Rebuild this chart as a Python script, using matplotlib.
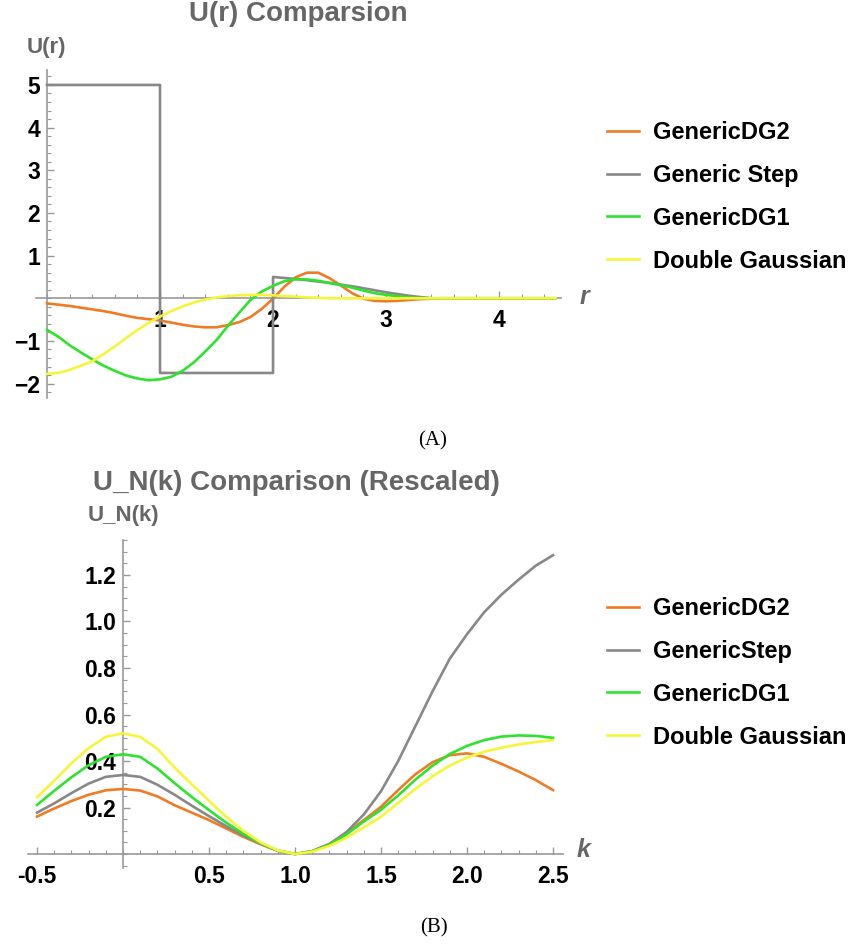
import matplotlib
matplotlib.use("Agg")
import matplotlib.pyplot as plt
from matplotlib.ticker import MultipleLocator

plt.rcParams['font.family'] = ['Liberation Sans', 'DejaVu Sans']

W, H = 851, 948

# ---- top panel data: U(r) ----
r_grid = [0.0, 0.1, 0.2, 0.3, 0.4, 0.5, 0.6, 0.7, 0.8, 0.9, 1.0, 1.1, 1.2, 1.3, 1.4, 1.5, 1.6,
          1.7, 1.8, 1.9, 2.0, 2.1, 2.2, 2.3, 2.4, 2.5, 2.6, 2.7, 2.8, 2.9, 3.0, 3.1, 3.2, 3.3,
          3.4, 3.5, 4.5]
u_dg2 = [-0.12, -0.15, -0.18, -0.22, -0.26, -0.30, -0.35, -0.41, -0.46, -0.49, -0.52, -0.57,
         -0.62, -0.66, -0.68, -0.68, -0.63, -0.56, -0.44, -0.25, -0.01, 0.27, 0.49, 0.60, 0.60,
         0.47, 0.30, 0.12, -0.01, -0.06, -0.07, -0.06, -0.04, -0.02, -0.01, 0.0, 0.0]
u_dg1 = [-0.74, -0.90, -1.10, -1.27, -1.43, -1.58, -1.70, -1.81, -1.88, -1.92, -1.90, -1.84,
         -1.70, -1.50, -1.25, -0.98, -0.65, -0.34, -0.04, 0.16, 0.29, 0.40, 0.45, 0.44, 0.41,
         0.36, 0.31, 0.25, 0.18, 0.12, 0.08, 0.05, 0.02, 0.01, 0.0, 0.0, 0.0]
u_dgauss = [-1.77, -1.75, -1.68, -1.58, -1.48, -1.31, -1.13, -0.93, -0.74, -0.58, -0.43, -0.30,
            -0.19, -0.10, -0.03, 0.02, 0.05, 0.07, 0.08, 0.08, 0.07, 0.05, 0.04, 0.02, 0.01,
            0.0, 0.0, 0.0, 0.0, 0.0, 0.0, 0.0, 0.0, 0.0, 0.0, 0.0, 0.0]
r_step = [0.0, 1.0, 1.0, 2.0, 2.0, 2.25, 2.5, 2.75, 3.0, 3.2, 3.4, 4.5]
u_step = [5.0, 5.0, -1.75, -1.75, 0.5, 0.44, 0.36, 0.26, 0.14, 0.06, 0.0, 0.0]

# ---- bottom panel data: U_N(k) ----
k_grid = [-0.5, -0.4, -0.3, -0.2, -0.1, 0.0, 0.1, 0.2, 0.3, 0.4, 0.5, 0.6, 0.7, 0.8, 0.9, 1.0,
          1.1, 1.2, 1.3, 1.4, 1.5, 1.6, 1.7, 1.8, 1.9, 2.0, 2.1, 2.2, 2.3, 2.4, 2.5]
n_dg2 = [0.161, 0.196, 0.228, 0.255, 0.274, 0.280, 0.273, 0.248, 0.210, 0.178, 0.146, 0.110,
         0.074, 0.042, 0.014, 0.0, 0.012, 0.044, 0.090, 0.146, 0.203, 0.275, 0.343, 0.395,
         0.425, 0.433, 0.418, 0.388, 0.355, 0.318, 0.275]
n_step = [0.178, 0.218, 0.262, 0.303, 0.332, 0.340, 0.332, 0.298, 0.255, 0.208, 0.163, 0.120,
          0.080, 0.045, 0.015, 0.0, 0.012, 0.042, 0.095, 0.170, 0.270, 0.400, 0.550, 0.700,
          0.840, 0.945, 1.040, 1.115, 1.180, 1.240, 1.285]
n_dg1 = [0.211, 0.272, 0.330, 0.382, 0.418, 0.429, 0.418, 0.368, 0.305, 0.245, 0.189, 0.135,
         0.087, 0.047, 0.015, 0.0, 0.012, 0.040, 0.085, 0.140, 0.190, 0.252, 0.320, 0.380,
         0.430, 0.465, 0.490, 0.505, 0.510, 0.508, 0.500]
n_dgauss = [0.244, 0.315, 0.390, 0.455, 0.504, 0.519, 0.504, 0.452, 0.372, 0.300, 0.229, 0.160,
            0.100, 0.050, 0.016, 0.0, 0.010, 0.035, 0.070, 0.115, 0.160, 0.220, 0.280, 0.335,
            0.380, 0.415, 0.440, 0.457, 0.471, 0.482, 0.490]

top_labels = ['GenericDG2', 'Generic Step', 'GenericDG1', 'Double Gaussian']
bottom_labels = ['GenericDG2', 'GenericStep', 'GenericDG1', 'Double Gaussian']
colors = ['#ef7b25', '#888888', '#2ee22e', '#f5f53a']

GRAY = '#999999'
TITLE_GRAY = '#666666'


def fx(px):
    return px / W


def fy(py):
    return 1 - py / H


def style_axis(ax):
    for s in ['top', 'right']:
        ax.spines[s].set_visible(False)
    for s in ['left', 'bottom']:
        ax.spines[s].set_position(('data', 0))
        ax.spines[s].set_color(GRAY)
        ax.spines[s].set_linewidth(1.2)
        ax.spines[s].set_zorder(1)
    ax.tick_params(which='major', direction='in', length=5, width=1, color=GRAY,
                   labelsize=16.5, labelcolor='black')
    ax.tick_params(which='minor', direction='in', length=3, width=0.8, color=GRAY)
    ax.tick_params(axis='x', pad=8)
    ax.tick_params(axis='y', pad=5)
    for lab in ax.get_xticklabels() + ax.get_yticklabels():
        lab.set_fontweight('bold')
    ax.patch.set_visible(False)


def add_legend(ax, top_px):
    leg = ax.legend(loc='upper left', bbox_to_anchor=(fx(607), fy(top_px)),
                    bbox_transform=fig.transFigure, frameon=False, fontsize=17,
                    handlelength=1.35, handletextpad=0.6, labelspacing=0.84,
                    borderpad=0, borderaxespad=0)
    for t in leg.get_texts():
        t.set_fontweight('bold')


fig = plt.figure(figsize=(W / 100, H / 100), dpi=100)

# ---------- top panel ----------
ax1 = fig.add_axes([fx(35.7), fy(397.7), fx(561.2 - 35.7), (397.7 - 70) / H])
ax1.plot(r_grid, u_dg2, color=colors[0], lw=1.9, label=top_labels[0], zorder=3)
ax1.plot(r_step, u_step, color=colors[1], lw=1.9, label=top_labels[1], zorder=3)
ax1.plot(r_grid, u_dg1, color=colors[2], lw=1.9, label=top_labels[2], zorder=3)
ax1.plot(r_grid, u_dgauss, color=colors[3], lw=1.9, label=top_labels[3], zorder=3)
ax1.set_xlim(-0.1, 4.55)
ax1.set_ylim(-2.33, 5.35)
ax1.set_xticks([1, 2, 3, 4], labels=['1', '2', '3', '4'])
ax1.set_yticks([-2, -1, 1, 2, 3, 4, 5], labels=['\u22122', '\u22121', '1', '2', '3', '4', '5'])
ax1.xaxis.set_minor_locator(MultipleLocator(0.2))
ax1.yaxis.set_minor_locator(MultipleLocator(0.2))
style_axis(ax1)

fig.text(fx(298), fy(14), 'U(r) Comparsion', ha='center', va='center', fontsize=20,
         fontweight='bold', color=TITLE_GRAY)
fig.text(fx(46), fy(48), 'U(r)', ha='center', va='center', fontsize=16,
         fontweight='bold', color=TITLE_GRAY)
fig.text(fx(584), fy(297), 'r', ha='center', va='center', fontsize=18,
         fontweight='bold', style='italic', color=TITLE_GRAY)
add_legend(ax1, 121)

fig.text(fx(433), fy(441), '(A)', ha='center', va='center', fontsize=15,
         family=['Liberation Serif', 'DejaVu Serif'])

# ---------- bottom panel ----------
ax2 = fig.add_axes([fx(28.4), fy(868), fx(563.3 - 28.4), (868 - 540.1) / H])
ax2.plot(k_grid, n_dg2, color=colors[0], lw=1.9, label=bottom_labels[0], zorder=3)
ax2.plot(k_grid, n_step, color=colors[1], lw=1.9, label=bottom_labels[1], zorder=3)
ax2.plot(k_grid, n_dg1, color=colors[2], lw=1.9, label=bottom_labels[2], zorder=3)
ax2.plot(k_grid, n_dgauss, color=colors[3], lw=1.9, label=bottom_labels[3], zorder=3)
ax2.set_xlim(-0.55, 2.56)
ax2.set_ylim(-0.06, 1.35)
ax2.set_xticks([-0.5, 0.5, 1.0, 1.5, 2.0, 2.5],
               labels=['-0.5', '0.5', '1.0', '1.5', '2.0', '2.5'])
ax2.set_yticks([0.2, 0.4, 0.6, 0.8, 1.0, 1.2],
               labels=['0.2', '0.4', '0.6', '0.8', '1.0', '1.2'])
ax2.xaxis.set_minor_locator(MultipleLocator(0.1))
ax2.yaxis.set_minor_locator(MultipleLocator(0.05))
style_axis(ax2)

fig.text(fx(296), fy(483), 'U_N(k) Comparison (Rescaled)', ha='center', va='center',
         fontsize=20, fontweight='bold', color=TITLE_GRAY)
fig.text(fx(123), fy(515), 'U_N(k)', ha='center', va='center', fontsize=16,
         fontweight='bold', color=TITLE_GRAY)
fig.text(fx(584), fy(850), 'k', ha='center', va='center', fontsize=18,
         fontweight='bold', style='italic', color=TITLE_GRAY)
add_legend(ax2, 597)

fig.text(fx(434), fy(928), '(B)', ha='center', va='center', fontsize=15,
         family=['Liberation Serif', 'DejaVu Serif'])

fig.savefig('out.png', dpi=100)
